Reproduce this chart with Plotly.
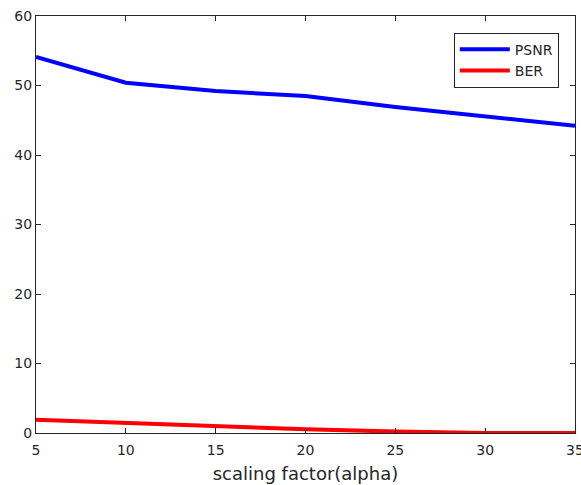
import plotly.graph_objects as go

alpha = [5, 10, 15, 20, 25, 30, 35]
psnr = [54.1, 50.4, 49.2, 48.5, 46.9, 45.6, 44.2]
ber = [1.9, 1.45, 0.9, 0.55, 0.2, 0.0, 0.0]

x_ticks = [5, 10, 15, 20, 25, 30, 35]
y_ticks = [0, 10, 20, 30, 40, 50, 60]

fig = go.Figure()
fig.add_trace(go.Scatter(x=alpha, y=psnr, mode="lines", name="PSNR",
                         line=dict(color="#0000ff", width=4)))
fig.add_trace(go.Scatter(x=alpha, y=ber, mode="lines", name="BER",
                         line=dict(color="#ff0000", width=4)))

axis_common = dict(showgrid=False, zeroline=False, showline=True, linecolor="#262626",
                   linewidth=1, mirror="ticks", ticks="inside", ticklen=5,
                   tickcolor="#262626", automargin=False, ticklabeloverflow="allow",
                   tickfont=dict(family="DejaVu Sans", size=14, color="#262626"))

fig.update_xaxes(range=[5, 35.0001], tickvals=x_ticks, ticklabelstandoff=4,
                 title=dict(text="scaling factor(alpha)", font=dict(family="DejaVu Sans", size=18, color="#262626"), standoff=10),
                 **axis_common)
fig.update_yaxes(range=[0, 60.0001], tickvals=y_ticks, **axis_common)

fig.update_layout(
    width=581, height=485,
    margin=dict(l=36, r=6, t=16, b=52),
    paper_bgcolor="white", plot_bgcolor="white",
    font=dict(family="DejaVu Sans", color="#262626"),
    legend=dict(x=0.97, y=0.96, xanchor="right", yanchor="top",
                bordercolor="#262626", borderwidth=1, bgcolor="white",
                font=dict(family="DejaVu Sans", size=14, color="#262626"),
                itemwidth=50, tracegroupgap=0),
)

fig.write_html("out.html", config={"displayModeBar": False},
               post_script="document.body.style.margin='0';document.body.style.overflow='hidden';")
